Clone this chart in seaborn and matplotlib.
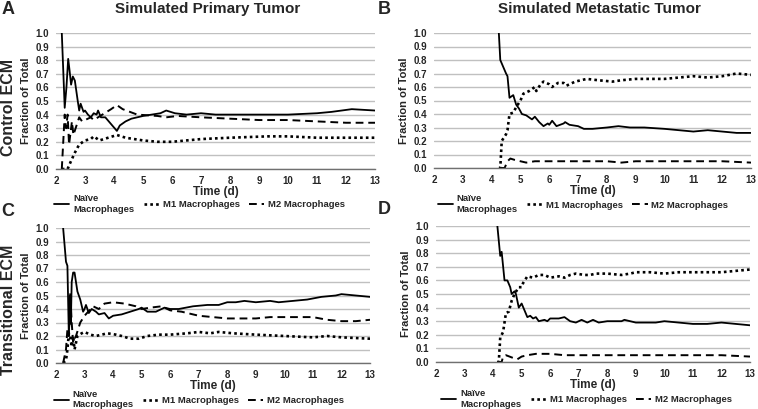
import numpy as np
import pandas as pd
import matplotlib
matplotlib.use("Agg")
import matplotlib.pyplot as plt
import seaborn as sns

# === Data ===
# Panel A: primary tumor, control ECM
a_naive_t = [2.2, 2.3, 2.36, 2.42, 2.47, 2.52, 2.58, 2.65, 2.75, 2.8, 2.85, 2.95, 3.0, 3.1, 3.2, 3.3,
             3.4, 3.45, 3.55, 3.7, 3.9, 4.1, 4.2, 4.4, 4.6, 5.0, 5.3, 5.6, 5.8, 6.1, 6.5, 7.0, 7.5,
             8.0, 9.0, 10.0, 11.0, 11.5, 12.2, 13.0]
a_naive_v = [1.0, 0.45, 0.6, 0.81, 0.72, 0.62, 0.68, 0.65, 0.5, 0.43, 0.48, 0.42, 0.43, 0.40, 0.38, 0.41,
             0.40, 0.43, 0.38, 0.38, 0.33, 0.28, 0.32, 0.35, 0.37, 0.39, 0.40, 0.41, 0.43, 0.41, 0.40, 0.41, 0.40,
             0.40, 0.40, 0.40, 0.41, 0.42, 0.44, 0.43]
a_m1_t = [2.2, 2.4, 2.5, 2.65, 2.8, 3.0, 3.2, 3.3, 3.5, 3.8, 4.1, 4.4, 5.0, 5.5, 6.0, 6.5, 7.0, 8.0,
          9.3, 10.0, 11.0, 12.0, 13.0]
a_m1_v = [0.0, 0.0, 0.05, 0.12, 0.18, 0.21, 0.22, 0.24, 0.21, 0.23, 0.25, 0.23, 0.21, 0.20, 0.20, 0.21,
          0.22, 0.23, 0.24, 0.24, 0.23, 0.23, 0.23]
a_m2_t = [2.2, 2.3, 2.35, 2.4, 2.45, 2.55, 2.6, 2.8, 2.9, 3.0, 3.2, 3.3, 3.6, 3.9, 4.1, 4.3, 4.8, 5.5,
          5.8, 6.2, 7.0, 8.0, 9.0, 10.0, 11.0, 12.0, 13.0]
a_m2_v = [0.0, 0.40, 0.30, 0.40, 0.18, 0.35, 0.25, 0.38, 0.35, 0.36, 0.38, 0.36, 0.40, 0.44, 0.47, 0.44,
          0.40, 0.39, 0.38, 0.39, 0.38, 0.37, 0.36, 0.36, 0.35, 0.34, 0.34]

# Panel B: metastatic tumor, control ECM
b_naive_t = [4.25, 4.3, 4.5, 4.55, 4.62, 4.75, 4.85, 4.95, 5.05, 5.2, 5.4, 5.5, 5.65, 5.8, 5.95, 6.0,
             6.1, 6.25, 6.5, 6.55, 6.7, 7.0, 7.2, 7.5, 8.0, 8.4, 8.8, 9.3, 10.0, 10.5, 11.0, 11.5, 12.0,
             12.5, 13.0]
b_naive_v = [1.0, 0.80, 0.70, 0.68, 0.52, 0.54, 0.47, 0.44, 0.40, 0.39, 0.36, 0.38, 0.34, 0.31, 0.33, 0.32,
             0.35, 0.31, 0.33, 0.34, 0.32, 0.31, 0.29, 0.29, 0.30, 0.31, 0.30, 0.30, 0.29, 0.28, 0.27, 0.28, 0.27,
             0.26, 0.26]
b_m1_t = [4.25, 4.3, 4.35, 4.5, 4.55, 4.62, 4.75, 4.85, 5.0, 5.1, 5.3, 5.5, 5.55, 5.7, 5.8, 6.0, 6.1,
          6.3, 6.5, 6.6, 6.9, 7.3, 7.7, 8.2, 8.5, 9.0, 9.5, 10.0, 10.5, 11.0, 11.5, 12.0, 12.5, 13.0]
b_m1_v = [0.0, 0.0, 0.20, 0.25, 0.28, 0.40, 0.41, 0.45, 0.50, 0.55, 0.57, 0.60, 0.57, 0.62, 0.64, 0.62, 0.60,
          0.63, 0.63, 0.61, 0.64, 0.66, 0.65, 0.64, 0.65, 0.66, 0.66, 0.66, 0.67, 0.68, 0.67, 0.68, 0.70, 0.69]
b_m2_t = [4.3, 4.45, 4.55, 4.65, 4.8, 5.0, 5.2, 5.5, 6.0, 7.0, 8.0, 8.5, 9.0, 10.0, 11.0, 12.0, 13.0]
b_m2_v = [0.0, 0.0, 0.05, 0.07, 0.06, 0.05, 0.04, 0.05, 0.05, 0.05, 0.05, 0.04, 0.05, 0.05, 0.05, 0.05, 0.04]

# Panel C: primary tumor, transitional ECM
c_naive_t = [2.25, 2.35, 2.4, 2.45, 2.5, 2.52, 2.55, 2.6, 2.65, 2.75, 2.85, 2.95, 3.0, 3.05, 3.15, 3.25,
             3.4, 3.5, 3.7, 3.85, 4.0, 4.3, 4.6, 4.9, 5.0, 5.2, 5.5, 5.8, 6.0, 6.3, 6.8, 7.3, 7.7, 8.0,
             8.3, 8.6, 9.0, 9.5, 9.8, 10.3, 10.8, 11.3, 11.8, 12.0, 12.5, 13.0]
c_naive_v = [1.0, 0.75, 0.72, 0.20, 0.50, 0.29, 0.60, 0.67, 0.67, 0.53, 0.47, 0.38, 0.40, 0.43, 0.37, 0.40,
             0.38, 0.36, 0.37, 0.33, 0.35, 0.36, 0.38, 0.40, 0.41, 0.38, 0.38, 0.41, 0.40, 0.40, 0.42, 0.43, 0.43, 0.45,
             0.45, 0.46, 0.45, 0.46, 0.45, 0.46, 0.47, 0.49, 0.50, 0.51, 0.50, 0.49]
c_m1_t = [2.25, 2.35, 2.4, 2.45, 2.5, 2.55, 2.6, 2.65, 2.75, 2.9, 3.0, 3.2, 3.4, 3.8, 4.1, 4.3, 4.6, 4.9,
          5.2, 5.6, 6.0, 6.6, 7.0, 7.4, 7.7, 8.2, 9.0, 10.0, 11.0, 11.5, 12.0, 13.0]
c_m1_v = [0.0, 0.02, 0.10, 0.22, 0.20, 0.12, 0.20, 0.10, 0.20, 0.22, 0.23, 0.21, 0.20, 0.22, 0.21, 0.20, 0.18, 0.18,
          0.20, 0.21, 0.21, 0.22, 0.23, 0.22, 0.23, 0.22, 0.21, 0.20, 0.19, 0.20, 0.19, 0.18]
c_m2_t = [2.25, 2.35, 2.4, 2.45, 2.5, 2.55, 2.6, 2.7, 2.85, 3.0, 3.3, 3.5, 3.7, 4.0, 4.4, 4.8, 5.0, 5.3,
          5.7, 6.0, 6.4, 7.0, 7.5, 8.0, 8.5, 9.0, 9.5, 10.0, 10.5, 11.0, 11.5, 12.0, 12.5, 13.0]
c_m2_v = [0.0, 0.10, 0.25, 0.20, 0.52, 0.30, 0.15, 0.20, 0.30, 0.35, 0.42, 0.40, 0.44, 0.45, 0.44, 0.42, 0.40, 0.41,
          0.42, 0.39, 0.38, 0.35, 0.34, 0.33, 0.33, 0.33, 0.34, 0.34, 0.34, 0.34, 0.32, 0.31, 0.31, 0.32]

# Panel D: metastatic tumor, transitional ECM
d_naive_t = [4.15, 4.25, 4.3, 4.4, 4.5, 4.6, 4.65, 4.75, 4.8, 4.9, 5.0, 5.1, 5.2, 5.3, 5.4, 5.5, 5.6,
             5.8, 5.9, 6.0, 6.3, 6.5, 6.7, 6.9, 7.1, 7.3, 7.5, 7.7, 8.0, 8.5, 8.6, 9.0, 9.3, 9.7, 10.0,
             10.5, 11.0, 11.5, 12.0, 12.5, 13.0]
d_naive_v = [1.0, 0.78, 0.81, 0.60, 0.60, 0.55, 0.50, 0.52, 0.50, 0.40, 0.43, 0.38, 0.33, 0.34, 0.32, 0.33, 0.30,
             0.31, 0.30, 0.32, 0.32, 0.33, 0.30, 0.29, 0.31, 0.29, 0.31, 0.29, 0.30, 0.30, 0.31, 0.29, 0.29, 0.29, 0.30,
             0.29, 0.28, 0.28, 0.29, 0.28, 0.27]
d_m1_t = [4.15, 4.2, 4.25, 4.35, 4.45, 4.55, 4.65, 4.75, 4.9, 5.0, 5.05, 5.2, 5.4, 5.6, 5.8, 6.0, 6.3,
          6.5, 6.7, 6.9, 7.2, 7.4, 7.6, 8.0, 8.5, 8.8, 9.0, 9.5, 10.0, 10.5, 11.0, 11.5, 12.0, 12.5, 13.0]
d_m1_v = [0.0, 0.0, 0.18, 0.22, 0.36, 0.37, 0.45, 0.50, 0.55, 0.55, 0.58, 0.63, 0.62, 0.64, 0.64, 0.62, 0.63,
          0.62, 0.64, 0.65, 0.64, 0.64, 0.65, 0.65, 0.64, 0.65, 0.66, 0.66, 0.65, 0.66, 0.66, 0.66, 0.66, 0.67, 0.68]
d_m2_t = [4.15, 4.3, 4.35, 4.45, 4.7, 4.85, 5.0, 5.2, 5.5, 6.0, 6.5, 7.0, 8.0, 9.0, 10.0, 11.0, 12.0, 13.0]
d_m2_v = [0.0, 0.0, 0.04, 0.05, 0.03, 0.02, 0.04, 0.05, 0.06, 0.06, 0.05, 0.05, 0.05, 0.05, 0.05, 0.05, 0.05, 0.04]

series_labels = ["Naïve\nMacrophages", "M1 Macrophages", "M2 Macrophages"]
col_titles = ["Simulated Primary Tumor", "Simulated Metastatic Tumor"]
row_titles = ["Control ECM", "Transitional ECM"]
panel_letters = ["A", "B", "C", "D"]

panels = [
    [(a_naive_t, a_naive_v), (a_m1_t, a_m1_v), (a_m2_t, a_m2_v)],
    [(b_naive_t, b_naive_v), (b_m1_t, b_m1_v), (b_m2_t, b_m2_v)],
    [(c_naive_t, c_naive_v), (c_m1_t, c_m1_v), (c_m2_t, c_m2_v)],
    [(d_naive_t, d_naive_v), (d_m1_t, d_m1_v), (d_m2_t, d_m2_v)],
]

# === Styling ===
sns.set_style("white")
plt.rcParams['font.family'] = ['Liberation Sans', 'DejaVu Sans']
plt.rcParams['font.weight'] = 'bold'

line_styles = ['-', (0, (1, 1.2)), (0, (4, 2.5))]
line_widths = [1.3, 1.9, 1.4]

# axes boxes in pixels (left, top, right, bottom) and legend anchors (axes coords)
W, H = 758, 409
rects = [
    (56, 33, 375, 169),
    (434, 33, 751, 168),
    (56, 228, 370, 363),
    (436, 226, 750, 362),
]
legend_anchor = [(0.45, -0.257), (0.47, -0.267), (0.455, -0.27), (0.48, -0.272)]

fig = plt.figure(figsize=(W / 100, H / 100), dpi=100)

for i, (series, (x0, y0, x1, y1)) in enumerate(zip(panels, rects)):
    ax = fig.add_axes([x0 / W, 1 - y1 / H, (x1 - x0) / W, (y1 - y0) / H])
    for (t, v), lab, ls, lw in zip(series, series_labels, line_styles, line_widths):
        df = pd.DataFrame({'t': t, 'v': v})
        sns.lineplot(data=df, x='t', y='v', ax=ax, color='black', linestyle=ls,
                     linewidth=lw, label=lab, estimator=None, sort=False)
    ax.set_xlim(2, 13)
    ax.set_ylim(0, 1.0)
    ax.set_xticks(np.arange(2, 14, 1))
    ax.set_yticks(np.round(np.arange(0, 1.01, 0.1), 1))
    ax.set_yticklabels([f"{y:.1f}" for y in np.arange(0, 1.01, 0.1)])
    ax.yaxis.grid(True, color='#c0c0c0', linewidth=1.0)
    ax.set_axisbelow(True)
    for s in ['top', 'right', 'left']:
        ax.spines[s].set_visible(False)
    ax.spines['bottom'].set_color('#707070')
    ax.spines['bottom'].set_linewidth(1.0)
    ax.tick_params(axis='x', direction='out', length=3, width=0.8, color='#707070',
                   labelsize=7, pad=2)
    ax.tick_params(axis='y', direction='out', length=3, width=0.8, color='#a0a0a0',
                   labelsize=7, pad=2)
    for lbl in ax.get_xticklabels() + ax.get_yticklabels():
        lbl.set_fontweight('bold')
    ax.set_xlabel("Time (d)", fontsize=8.5, fontweight='bold', labelpad=0)
    ax.set_ylabel("Fraction of Total", fontsize=8, fontweight='bold', labelpad=3)
    ax.legend(loc='center', bbox_to_anchor=legend_anchor[i], ncol=3, frameon=False,
              handlelength=1.6, columnspacing=1.0, handletextpad=0.4,
              prop={'weight': 'bold', 'size': 6.8})

# titles, letters and row labels
fig.text(208 / W, 1 - 9 / H, col_titles[0], ha='center', va='center', fontsize=11, fontweight='bold')
fig.text(599 / W, 1 - 9 / H, col_titles[1], ha='center', va='center', fontsize=11, fontweight='bold')
fig.text(9 / W, 1 - 107 / H, row_titles[0], ha='center', va='center', rotation=90,
         fontsize=11.5, fontweight='bold')
fig.text(9 / W, 1 - 310 / H, row_titles[1], ha='center', va='center', rotation=90,
         fontsize=11.5, fontweight='bold')
letter_pos = [(8, 9), (384, 9), (8, 212), (384, 210)]
for letter, (lx, ly) in zip(panel_letters, letter_pos):
    fig.text(lx / W, 1 - ly / H, letter, ha='center', va='center', fontsize=13, fontweight='bold')

fig.savefig("out.png", dpi=100)
plt.close(fig)
